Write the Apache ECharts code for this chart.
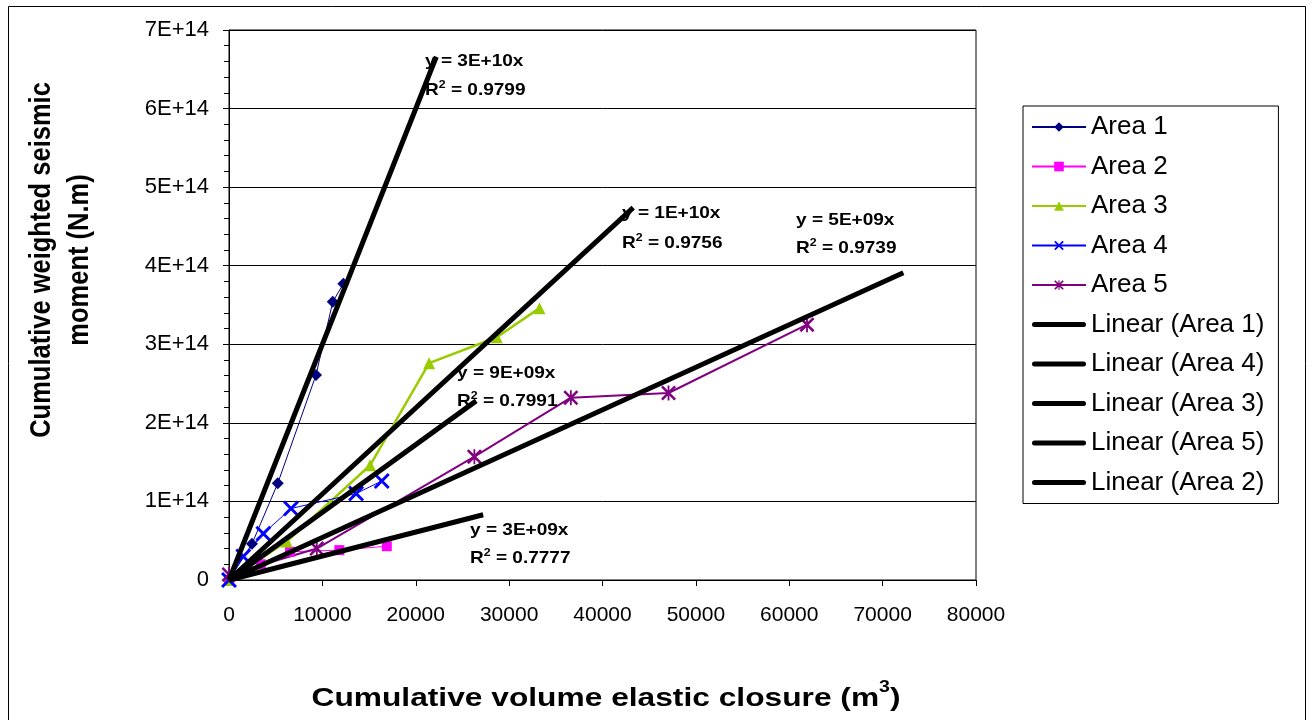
<!DOCTYPE html>
<html>
<head>
<meta charset="utf-8">
<script src="https://cdn.jsdelivr.net/npm/echarts@6/dist/echarts.min.js"></script>
<style>html,body{margin:0;padding:0;background:#fff}#c{width:1312px;height:720px}</style>
</head>
<body>
<div id="c"></div>
<script>
// ---- data ----
const area1X = [0, 2460, 5220, 9320, 11110, 12250];
const area1Y = [0, 0.46e14, 1.23e14, 2.61e14, 3.54e14, 3.77e14];
const area2X = [0, 3400, 6540, 11820, 16900];
const area2Y = [0, 0.2e14, 0.36e14, 0.38e14, 0.43e14];
const area3X = [0, 6180, 15110, 21430, 28680, 33250];
const area3Y = [0, 0.49e14, 1.46e14, 2.76e14, 3.09e14, 3.46e14];
const area4X = [0, 1530, 3680, 6640, 13610, 16360];
const area4Y = [0, 0.30e14, 0.59e14, 0.91e14, 1.10e14, 1.26e14];
const area5X = [0, 9400, 26280, 36610, 47070, 61900];
const area5Y = [0.07e14, 0.40e14, 1.57e14, 2.32e14, 2.38e14, 3.25e14];
// trendlines (through origin), start and end points
const trend1X = [0, 22200], trend1Y = [0, 6.66e14];
const trend4X = [0, 26470], trend4Y = [0, 2.28e14];
const trend3X = [0, 43290], trend3Y = [0, 4.74e14];
const trend5X = [0, 72220], trend5Y = [0, 3.91e14];
const trend2X = [0, 27220], trend2Y = [0, 0.83e14];
const trendEq = ['y = 3E+10x', 'y = 1E+10x', 'y = 9E+09x', 'y = 5E+09x', 'y = 3E+09x'];
const trendR2 = ['0.9799', '0.9756', '0.7991', '0.9739', '0.7777'];
const xTicks = {min: 0, max: 80000, step: 10000};
const yTicks = {min: 0, max: 7e14, step: 1e14};

const zip = (xs, ys) => xs.map((x, i) => [x, ys[i]]);
const FONT = '"Liberation Sans", Arial, sans-serif';
const X_PATH = 'path://M0,1.3L1.3,0L5,3.7L8.7,0L10,1.3L6.3,5L10,8.7L8.7,10L5,6.3L1.3,10L0,8.7L3.7,5Z';
const STAR_PATH = 'path://M0,1.2L1.2,0L5,3.8L8.8,0L10,1.2L6.2,5L10,8.8L8.8,10L5,6.2L1.2,10L0,8.8L3.8,5Z M4.4,0L5.6,0L5.6,10L4.4,10Z';
const LINE_ICON = 'path://M2.5,0L51.5,0A2.5,2.5,0,0,1,51.5,5L2.5,5A2.5,2.5,0,0,1,2.5,0Z';

function dataSeries(name, xs, ys, color, width, symbol, size) {
  return {
    name, type: 'line', data: zip(xs, ys), symbol, symbolSize: size,
    lineStyle: {color, width}, itemStyle: {color}, z: 3, animation: false
  };
}
function trendSeries(name, xs, ys) {
  return {
    name, type: 'line', data: zip(xs, ys), symbol: 'none',
    lineStyle: {color: '#000', width: 5}, itemStyle: {color: '#000'}, z: 4, animation: false
  };
}

// trend label positions (pixels)
const labelPos = [[425, 61, 89], [622, 213, 242], [457, 373, 400], [796, 220, 247], [470, 530, 557]];
const graphics = [];
labelPos.forEach((p, i) => {
  graphics.push({type: 'text', x: p[0], y: p[1], scaleX: 1.12, z: 10,
    style: {text: trendEq[i], font: 'bold 17px ' + FONT, fill: '#000', align: 'left', verticalAlign: 'middle'}});
  graphics.push({type: 'text', x: p[0], y: p[2], scaleX: 1.12, z: 10,
    style: {text: '{a|R}{s|2}{a| = ' + trendR2[i] + '}', align: 'left', verticalAlign: 'middle',
      rich: {a: {font: 'bold 17px ' + FONT, fill: '#000', lineHeight: 20, verticalAlign: 'bottom'},
             s: {font: 'bold 11px ' + FONT, fill: '#000', lineHeight: 20, verticalAlign: 'top'}}}});
});
// outer frame
graphics.push({type: 'rect', shape: {x: 8.5, y: 6.5, width: 1297, height: 714}, z: 0,
  style: {fill: 'none', stroke: '#000', lineWidth: 1}});
// axis titles
graphics.push({type: 'text', x: 61, y: 260, rotation: Math.PI / 2, scaleY: 1.15, z: 10,
  style: {text: 'Cumulative weighted seismic\nmoment (N.m)', font: 'bold 25.5px ' + FONT, fill: '#000',
    align: 'center', verticalAlign: 'middle', lineHeight: 33}});
graphics.push({type: 'text', x: 606, y: 696, scaleX: 1.22, z: 10,
  style: {text: '{a|Cumulative volume elastic closure (m}{s|3}{a|)}', align: 'center', verticalAlign: 'middle',
    rich: {a: {font: 'bold 26px ' + FONT, fill: '#000', lineHeight: 32, verticalAlign: 'bottom'},
           s: {font: 'bold 16px ' + FONT, fill: '#000', lineHeight: 32, verticalAlign: 'top'}}}});

const legendNames = ['Area 1', 'Area 2', 'Area 3', 'Area 4', 'Area 5',
  'Linear (Area 1)', 'Linear (Area 4)', 'Linear (Area 3)', 'Linear (Area 5)', 'Linear (Area 2)'];

const chart = echarts.init(document.getElementById('c'));
chart.setOption({
  backgroundColor: '#fff',
  animation: false,
  textStyle: {fontFamily: FONT},
  grid: {left: 229, top: 30, width: 747, height: 550, show: true, borderColor: '#000', borderWidth: 1, containLabel: false},
  xAxis: {
    type: 'value', min: xTicks.min, max: xTicks.max, interval: xTicks.step,
    axisLine: {show: true, onZero: false, lineStyle: {color: '#000', width: 1}},
    axisTick: {show: true, inside: false, length: 6, lineStyle: {color: '#000'}},
    splitLine: {show: false},
    axisLabel: {color: '#000', fontSize: 21, fontFamily: FONT, margin: 25, formatter: v => String(v)}
  },
  yAxis: {
    type: 'value', min: yTicks.min, max: yTicks.max, interval: yTicks.step,
    axisLine: {show: true, lineStyle: {color: '#000', width: 1}},
    axisTick: {show: true, inside: false, length: 6, lineStyle: {color: '#000'}},
    minorTick: {show: true, splitNumber: 5, length: 5, lineStyle: {color: '#000'}},
    splitLine: {show: true, lineStyle: {color: '#000', width: 1}},
    axisLabel: {color: '#000', fontSize: 22, fontFamily: FONT, margin: 20,
      formatter: v => v === 0 ? '0' : Math.round(v / 1e14) + 'E+14'}
  },
  legend: {
    orient: 'vertical', left: 1023, top: 106,
    padding: [8, 14, 8, 8], itemGap: 13.5, itemWidth: 54, itemHeight: 12,
    symbolKeepAspect: true,
    borderColor: '#000', borderWidth: 1, backgroundColor: '#fff',
    textStyle: {color: '#000', fontSize: 26, fontFamily: FONT, lineHeight: 26},
    data: legendNames.map((n, i) => i < 5 ? {name: n} : {name: n, icon: LINE_ICON})
  },
  graphic: graphics,
  series: [
    dataSeries('Area 1', area1X, area1Y, '#000080', 1, 'diamond', 12),
    dataSeries('Area 2', area2X, area2Y, '#FF00FF', 1, 'rect', 10),
    dataSeries('Area 3', area3X, area3Y, '#99CC00', 2.5, 'triangle', 12),
    dataSeries('Area 4', area4X, area4Y, '#0000FF', 1, X_PATH, 16),
    dataSeries('Area 5', area5X, area5Y, '#800080', 2, STAR_PATH, 15),
    trendSeries('Linear (Area 1)', trend1X, trend1Y),
    trendSeries('Linear (Area 4)', trend4X, trend4Y),
    trendSeries('Linear (Area 3)', trend3X, trend3Y),
    trendSeries('Linear (Area 5)', trend5X, trend5Y),
    trendSeries('Linear (Area 2)', trend2X, trend2Y)
  ]
});
</script>
</body>
</html>
